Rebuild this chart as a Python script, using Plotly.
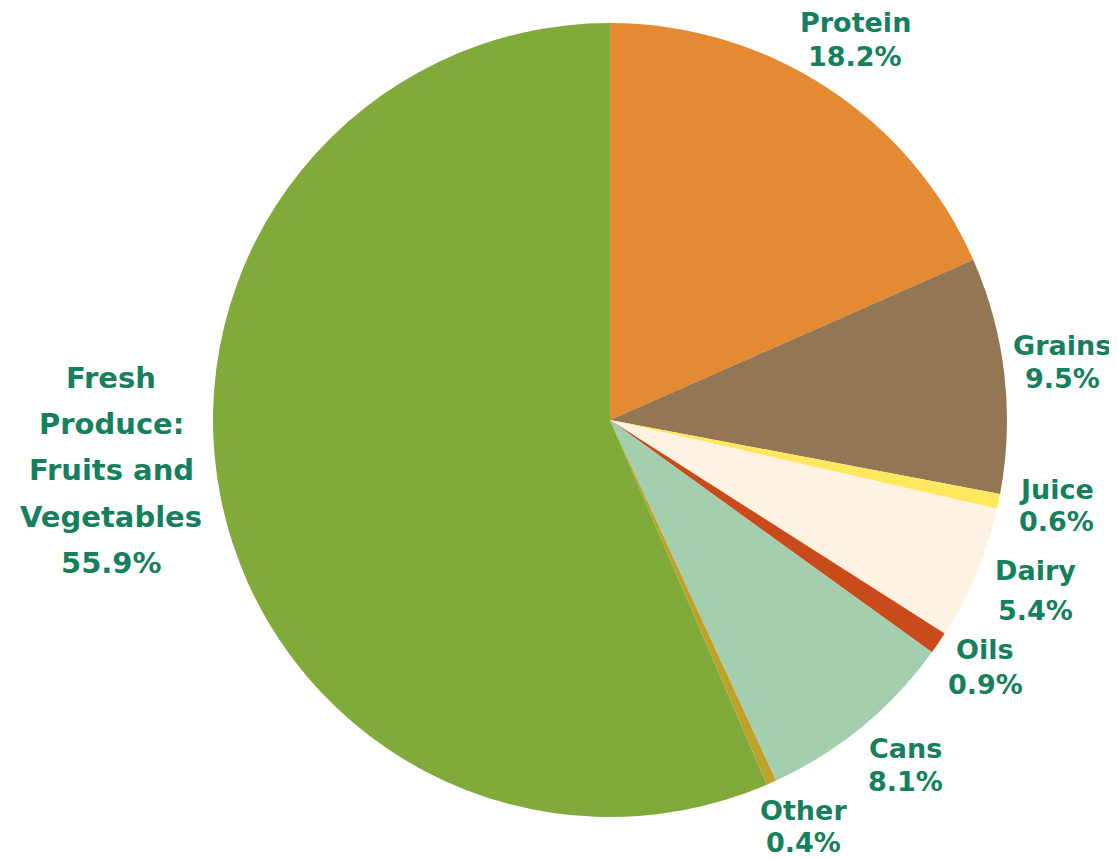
import plotly.graph_objects as go

# ---- data ----
categories = ["Protein", "Grains", "Juice", "Dairy", "Oils", "Cans", "Other",
              "Fresh Produce: Fruits and Vegetables"]
values = [18.2, 9.5, 0.6, 5.4, 0.9, 8.1, 0.4, 55.9]
colors = ["#E38A32", "#937654", "#FDE85E", "#FEF2E3", "#C94A1B", "#A4CFAF",
          "#BFA22A", "#80AA3A"]
# label text lines (name lines, then percentage)
label_names = [["Protein"], ["Grains"], ["Juice"], ["Dairy"], ["Oils"], ["Cans"],
               ["Other"], ["Fresh", "Produce:", "Fruits and", "Vegetables"]]

# ---- layout helpers (pixel positions in the browser window) ----
OFF = 8                      # page body margin
W, H = 1117 - OFF, 858 - OFF  # figure size
label_x = [855, 1062, 1056, 1035, 985, 905, 803, 111]
label_line_y = [[22, 57], [345, 378], [490, 521], [570, 610], [649, 684],
                [748, 781], [810, 842], [378, 424, 470, 517, 563]]
label_sizes = [27, 27, 27, 27, 27, 27, 27, 29]
label_color = "#15805C"
label_font = "DejaVu Sans"

cx, cy, r = 610, 420, 397


def px(x):
    return (x - OFF) / W


def py(y):
    return 1 - (y - OFF) / H


fig = go.Figure()
fig.add_trace(go.Pie(
    labels=categories,
    values=values,
    marker=dict(colors=colors, line=dict(width=0)),
    sort=False,
    direction="clockwise",
    rotation=0,
    textinfo="none",
    hoverinfo="label+percent",
    showlegend=False,
    domain=dict(x=[px(cx - r), px(cx + r)], y=[py(cy + r), py(cy - r)]),
))

annotations = []
for names, v, x, ys, fs in zip(label_names, values, label_x, label_line_y, label_sizes):
    lines = names + [f"{v:.1f}%"]
    for text, y in zip(lines, ys):
        annotations.append(dict(
            text=f"<b>{text}</b>", x=px(x), y=py(y), xref="paper", yref="paper",
            xanchor="center", yanchor="middle", showarrow=False,
            font=dict(family=label_font, size=fs, color=label_color),
        ))

shapes = [
    dict(type="line", xref="paper", yref="paper", x0=px(1114), x1=px(1114),
         y0=py(735), y1=py(808), line=dict(color="#A07A2A", width=3)),
    dict(type="line", xref="paper", yref="paper", x0=px(1114), x1=px(1114),
         y0=py(842), y1=0, line=dict(color="#A07A2A", width=3)),
]

fig.update_layout(
    width=W, height=H,
    margin=dict(l=0, r=0, t=0, b=0),
    paper_bgcolor="white", plot_bgcolor="white",
    annotations=annotations,
    shapes=shapes,
)

fig.write_html("out.html")
